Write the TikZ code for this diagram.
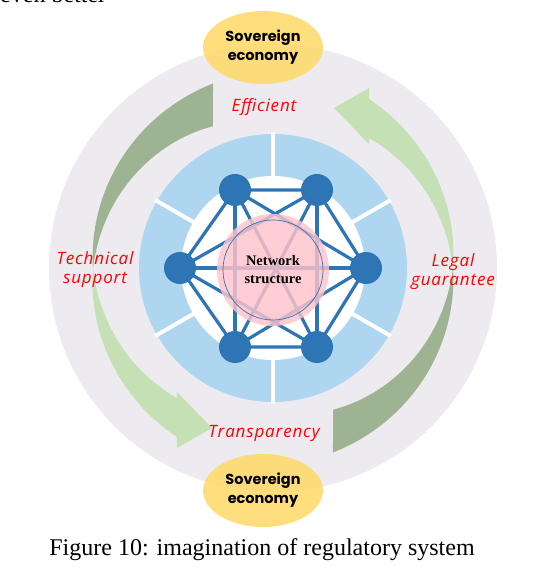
\documentclass[tikz,border=0pt]{standalone}
\usepackage{fontspec}
\setmainfont{Liberation Serif}
\newfontfamily\sovfont{Poppins}
\newfontfamily\redfont{Open Sans}[LetterSpace=5]
\usetikzlibrary{shapes.geometric}
\definecolor{ringgrey}{HTML}{EDEBEF}
\definecolor{ringblue}{HTML}{AED6F1}
\definecolor{netblue}{HTML}{2E75B6}
\definecolor{darkgreen}{HTML}{9EB392}
\definecolor{lightgreen}{HTML}{C5E0B4}
\definecolor{sovyellow}{HTML}{FFD966}
\definecolor{corepink}{HTML}{FFC2CA}
\begin{document}
\begin{tikzpicture}[x=1pt,y=1pt,
  hub/.style={circle,fill=netblue,minimum size=32pt,inner sep=0pt},
  link/.style={netblue,line width=3.2pt},
  redlabel/.style={text=red,font=\redfont\itshape\fontsize{17}{19}\selectfont,align=center},
  sov/.style={ellipse,fill=sovyellow,fill opacity=0.85,text opacity=1,minimum width=120pt,minimum height=73pt,inner sep=0pt,align=center,font=\sovfont\bfseries\fontsize{14.5}{19}\selectfont}]
\useasboundingbox (-273,-299) rectangle (270,268);
\newcommand{\ringout}{134}
\newcommand{\ringin}{92}

\fill[ringgrey] (0,0) circle (224);
\foreach \rot in {0,180} {
  \begin{scope}[rotate=\rot]
    \fill[darkgreen] plot[domain=108:180,samples=40] (\x:{194-14*(\x-108)/72})
      -- plot[domain=180:113,samples=40] (\x:{154+26*(\x-113)/67}) -- cycle;
    \fill[lightgreen] plot[domain=180:240.4,samples=40] (\x:{180+14.4*(\x-180)/60.4})
      -- (-96,-180) -- (-61,-160) -- (-96,-124) -- (-96,-130)
      -- plot[domain=233.6:180,samples=40] (\x:{180-18.4*(\x-180)/53.6}) -- cycle;
  \end{scope}
}
\fill[ringblue] (0,0) circle (\ringout);
\foreach \a in {30,90,...,330}
  \draw[white,line width=4pt] (\a:\ringin-2) -- (\a:\ringout+2);
\fill[white] (0,0) circle (\ringin);

\coordinate (tl) at (-38,78);
\coordinate (tr) at (44,78);
\coordinate (lf) at (-93,0);
\coordinate (rt) at (93,0);
\coordinate (bl) at (-38,-79);
\coordinate (br) at (44,-79);
\draw[link,line join=round] (tl) -- (tr) -- (rt) -- (br) -- (bl) -- (lf) -- cycle;
\foreach \p/\q in {tl/bl,tr/br,tl/rt,tr/lf,bl/rt,br/lf,tl/br,tr/bl,lf/rt}
  \draw[link] (\p) -- (\q);
\foreach \n in {tl,tr,lf,rt,bl,br}
  \node[hub] (\n hub) at (\n) {};

\node[circle,fill=corepink,fill opacity=0.82,minimum size=112pt,inner sep=0pt] (core) at (0,-2) {};
\node[circle,draw=netblue,line width=0.7pt,minimum size=100pt,inner sep=0pt,align=center,
  font=\bfseries\fontsize{14.5}{18}\selectfont] (corering) at (core) {Network\\structure};

\node[redlabel] (eff) at (-9,161) {Efficient};
\node[redlabel] (trans) at (-9,-165) {Transparency};
\node[redlabel] (tech) at (-178,-2) {Technical\\support};
\node[redlabel] (legal) at (180,-3.5) {Legal\\guarantee};

\node[sov] (sovtop) at (-10,220.5) {Sovereign\\economy};
\node[sov] (sovbot) at (-10,-222.5) {Sovereign\\economy};

\node[anchor=base,inner sep=0pt,font=\fontsize{24}{29}\selectfont] (caption) at (-11,-287) {Figure 10: imagination of regulatory system};
\node[anchor=base west,inner sep=0pt,font=\fontsize{24}{29}\selectfont] (prev) at (-273,265) {even better};
\end{tikzpicture}
\end{document}
